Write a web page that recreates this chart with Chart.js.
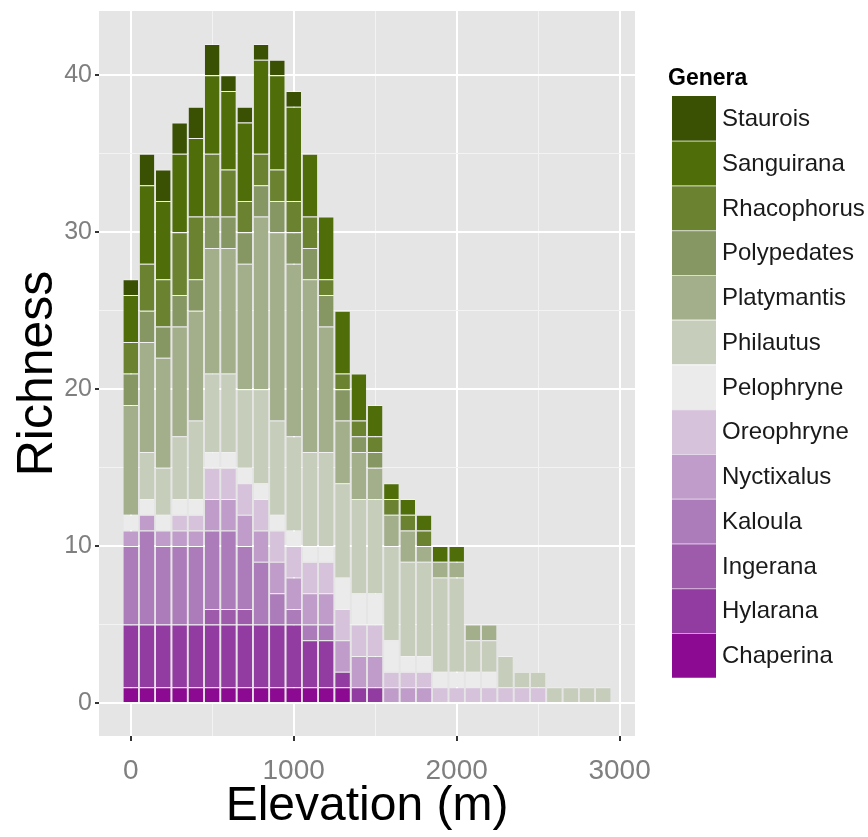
<!DOCTYPE html>
<html>
<head>
<meta charset="utf-8">
<script src="https://cdn.jsdelivr.net/npm/chart.js@4.4.1/dist/chart.umd.min.js"></script>
<style>
  html, body { margin: 0; padding: 0; background: #ffffff; }
  #wrap { width: 868px; height: 837px; }
</style>
</head>
<body>
<div id="wrap"><canvas id="c" width="868" height="837"></canvas></div>
<script>
// Elevation bands (m), one bar per band
const elevations = [0, 100, 200, 300, 400, 500, 600, 700, 800, 900,
                    1000, 1100, 1200, 1300, 1400, 1500, 1600, 1700, 1800, 1900,
                    2000, 2100, 2200, 2300, 2400, 2500, 2600, 2700, 2800, 2900];

// Genera, stacked from the bottom of each bar upwards
const genera = ['Chaperina', 'Hylarana', 'Ingerana', 'Kaloula', 'Nyctixalus', 'Oreophryne',
                'Pelophryne', 'Philautus', 'Platymantis', 'Polypedates', 'Rhacophorus',
                'Sanguirana', 'Staurois'];

// Species richness per genus in each elevation band
const chaperina   = [1, 1, 1, 1, 1, 1, 1, 1, 1, 1, 1, 1, 1, 1, 0, 0, 0, 0, 0, 0, 0, 0, 0, 0, 0, 0, 0, 0, 0, 0];
const hylarana    = [4, 4, 4, 4, 4, 4, 4, 4, 4, 4, 4, 3, 3, 1, 1, 1, 0, 0, 0, 0, 0, 0, 0, 0, 0, 0, 0, 0, 0, 0];
const ingerana    = [0, 0, 0, 0, 0, 1, 1, 1, 0, 0, 0, 0, 0, 0, 0, 0, 0, 0, 0, 0, 0, 0, 0, 0, 0, 0, 0, 0, 0, 0];
const kaloula     = [5, 6, 5, 5, 5, 5, 5, 4, 4, 2, 1, 1, 1, 0, 0, 0, 0, 0, 0, 0, 0, 0, 0, 0, 0, 0, 0, 0, 0, 0];
const nyctixalus  = [1, 1, 1, 1, 1, 2, 2, 2, 2, 2, 2, 2, 2, 2, 2, 2, 1, 1, 1, 0, 0, 0, 0, 0, 0, 0, 0, 0, 0, 0];
const oreophryne  = [0, 0, 0, 1, 1, 2, 2, 2, 2, 2, 2, 2, 2, 2, 2, 2, 1, 1, 1, 1, 1, 1, 1, 1, 1, 1, 0, 0, 0, 0];
const pelophryne  = [1, 1, 1, 1, 1, 1, 1, 1, 1, 1, 1, 1, 1, 2, 2, 2, 2, 1, 1, 1, 1, 1, 1, 0, 0, 0, 0, 0, 0, 0];
const philautus   = [0, 3, 3, 4, 5, 5, 5, 5, 6, 6, 6, 6, 6, 6, 6, 6, 6, 6, 6, 6, 6, 2, 2, 2, 1, 1, 1, 1, 1, 1];
const platymantis = [7, 7, 7, 7, 7, 8, 8, 8, 11, 12, 11, 11, 8, 4, 3, 2, 2, 2, 1, 1, 1, 1, 1, 0, 0, 0, 0, 0, 0, 0];
const polypedates = [2, 2, 2, 2, 2, 2, 2, 2, 2, 2, 2, 2, 2, 2, 1, 1, 0, 0, 0, 0, 0, 0, 0, 0, 0, 0, 0, 0, 0, 0];
const rhacophorus = [2, 3, 3, 4, 4, 4, 3, 2, 2, 2, 2, 2, 1, 1, 1, 1, 1, 1, 1, 0, 0, 0, 0, 0, 0, 0, 0, 0, 0, 0];
const sanguirana  = [3, 5, 5, 5, 5, 5, 5, 5, 6, 6, 6, 4, 4, 4, 3, 2, 1, 1, 1, 1, 1, 0, 0, 0, 0, 0, 0, 0, 0, 0];
const staurois    = [1, 2, 2, 2, 2, 2, 1, 1, 1, 1, 1, 0, 0, 0, 0, 0, 0, 0, 0, 0, 0, 0, 0, 0, 0, 0, 0, 0, 0, 0];

const series = [chaperina, hylarana, ingerana, kaloula, nyctixalus, oreophryne, pelophryne,
                philautus, platymantis, polypedates, rhacophorus, sanguirana, staurois];

// Labelled tick values on each axis
const xTickLabels = [0, 1000, 2000, 3000];
const yTickLabels = [0, 10, 20, 30, 40];

// Purple-to-green fill for each genus (same order as genera)
const fills = ['#8C0A92', '#923BA0', '#9E5BAC', '#AC7BBA', '#BF9CC9', '#D6C3DB', '#ECEBEC',
               '#C6CEBB', '#A3AE8B', '#879763', '#6B8330', '#4F6E0A', '#3A5104'];

const FONT = "'Liberation Sans', Arial, Helvetica, sans-serif";

// Major ticks plus a minor grid line halfway between each pair
function withMinor(major) {
  const out = [];
  major.forEach((v, i) => {
    out.push(v);
    if (i < major.length - 1) out.push((v + major[i + 1]) / 2);
  });
  return out.map(v => ({ value: v }));
}

const datasets = genera.map((g, i) => ({
  label: g,
  data: elevations.map((e, j) => ({ x: e, y: series[i][j] > 0 ? series[i][j] : null })),
  backgroundColor: fills[i],
  borderColor: 'rgba(255,255,255,0.45)',
  borderWidth: { top: 1, bottom: 0, left: 0, right: 0 },
  borderSkipped: false,
  barPercentage: 0.9,
  categoryPercentage: 1.0
}));

// Grey plotting panel behind the grid
const panelBackground = {
  id: 'panelBackground',
  beforeDraw(chart) {
    const { ctx, chartArea: a } = chart;
    ctx.save();
    ctx.fillStyle = '#E5E5E5';
    ctx.fillRect(a.left, a.top, a.right - a.left, a.bottom - a.top);
    ctx.restore();
  }
};

// Legend block on the right: title, colour keys and genus names (top genus first)
const generaLegend = {
  id: 'generaLegend',
  afterDraw(chart) {
    const { ctx } = chart;
    const x0 = 672, y0 = 96, w = 44, h = 44.75;
    ctx.save();
    ctx.fillStyle = '#000';
    ctx.font = 'bold 23px ' + FONT;
    ctx.textBaseline = 'middle';
    ctx.textAlign = 'left';
    ctx.fillText('Genera', 668, 79);
    ctx.font = '24px ' + FONT;
    const n = genera.length;
    for (let k = 0; k < n; k++) {
      const i = n - 1 - k;
      const y = y0 + k * h;
      ctx.fillStyle = fills[i];
      ctx.fillRect(x0, y, w, h);
      if (k > 0) {
        ctx.fillStyle = 'rgba(255,255,255,0.6)';
        ctx.fillRect(x0, y, w, 1);
      }
      ctx.fillStyle = '#1a1a1a';
      ctx.fillText(genera[i], 722, y + h / 2 + 1);
    }
    ctx.restore();
  }
};

const isMajor = (ctx, list) => ctx.tick && list.includes(ctx.tick.value);

new Chart(document.getElementById('c'), {
  type: 'bar',
  data: { datasets },
  options: {
    responsive: false,
    devicePixelRatio: 1,
    animation: false,
    layout: { padding: { left: 0, right: 233, top: 11, bottom: 0 } },
    plugins: { legend: { display: false }, tooltip: { enabled: false } },
    scales: {
      x: {
        type: 'linear',
        stacked: true,
        bounds: 'data',
        offset: false,
        min: -194.5,
        max: 3094.5,
        afterBuildTicks: s => { s.ticks = withMinor(xTickLabels); },
        afterFit: s => { s.height = 101; s.paddingLeft = 0; s.paddingRight = 0; },
        border: { display: false },
        grid: {
          offset: false,
          color: c => isMajor(c, xTickLabels) ? '#FFFFFF' : '#F3F3F3',
          lineWidth: c => isMajor(c, xTickLabels) ? 2 : 1,
          tickColor: c => isMajor(c, xTickLabels) ? '#333333' : 'rgba(0,0,0,0)',
          tickLength: 5
        },
        ticks: {
          autoSkip: false,
          maxRotation: 0,
          padding: 13,
          color: '#7F7F7F',
          font: { family: FONT, size: 28 },
          callback: v => xTickLabels.includes(v) ? String(v) : ''
        },
        title: {
          display: true,
          text: 'Elevation (m)',
          color: '#000',
          font: { family: FONT, size: 48 },
          padding: { top: 0, bottom: 1 }
        }
      },
      y: {
        stacked: true,
        bounds: 'data',
        min: -2.1,
        max: 44.1,
        afterBuildTicks: s => { s.ticks = withMinor(yTickLabels); },
        afterFit: s => { s.width = 99; s.paddingTop = 0; s.paddingBottom = 0; },
        border: { display: false },
        grid: {
          color: c => isMajor(c, yTickLabels) ? '#FFFFFF' : '#F3F3F3',
          lineWidth: c => isMajor(c, yTickLabels) ? 2 : 1,
          tickColor: c => isMajor(c, yTickLabels) ? '#333333' : 'rgba(0,0,0,0)',
          tickLength: 4
        },
        ticks: {
          autoSkip: false,
          padding: 3,
          color: '#7F7F7F',
          font: { family: FONT, size: 25 },
          callback: v => yTickLabels.includes(v) ? String(v) : ''
        },
        title: {
          display: true,
          text: 'Richness',
          color: '#000',
          font: { family: FONT, size: 50 },
          padding: { top: 8, bottom: 0 }
        }
      }
    }
  },
  plugins: [panelBackground, generaLegend]
});
</script>
</body>
</html>
